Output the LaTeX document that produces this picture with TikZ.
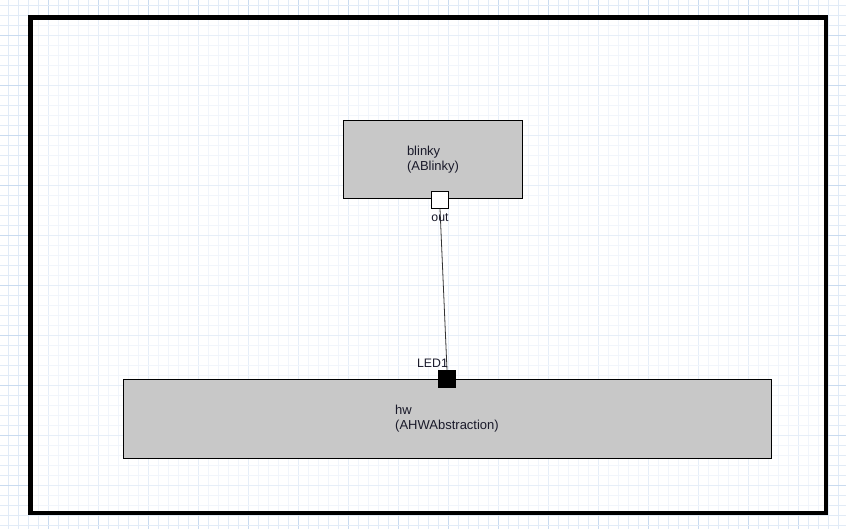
\documentclass[tikz,border=0pt]{standalone}
\usepackage{fontspec}
\setmainfont{Liberation Sans}
\begin{document}
\begin{tikzpicture}[x=1pt,y=-1pt,
  gridminor/.style={draw=gridblue!55,line width=0.8pt},
  gridmajor/.style={draw=gridblue,line width=0.8pt},
  block/.style={draw=black,fill=boxgray,line width=0.8pt,inner sep=0pt,
    align=left,font=\fontsize{13}{15}\selectfont,text=labeltext},
  portbox/.style={draw=black,line width=0.8pt,minimum size=17pt,inner sep=0pt},
  portlabel/.style={font=\fontsize{12.3}{14}\selectfont,text=labeltext,inner sep=0pt},
  wire/.style={draw=black!80,line width=0.8pt}]
\definecolor{gridblue}{HTML}{C9DBF0}
\definecolor{boxgray}{HTML}{C8C8C8}
\definecolor{labeltext}{HTML}{1A1A2A}
\useasboundingbox (0,0) rectangle (846,529);
\fill[white] (0,0) rectangle (846,529);
% background grid: minor lines every 10pt, stronger ones every 50pt
\foreach \gx in {8,18,...,838}{
  \pgfmathtruncatemacro{\gm}{mod(\gx-48+1000,50)}
  \ifnum\gm=0 \draw[gridmajor] (\gx,0) -- (\gx,529);
  \else \draw[gridminor] (\gx,0) -- (\gx,529); \fi
}
\foreach \gy in {5,15,...,525}{
  \pgfmathtruncatemacro{\gm}{mod(\gy-35+1000,50)}
  \ifnum\gm=0 \draw[gridmajor] (0,\gy) -- (846,\gy);
  \else \draw[gridminor] (0,\gy) -- (846,\gy); \fi
}
% diagram frame
\fill[white,opacity=0.55] (30.5,17.7) rectangle (825.8,513);
\draw[black,line width=4.6pt] (30.5,17.7) rectangle (825.8,513);
% blocks
\node[block,minimum width=179pt,minimum height=78pt] (blinky) at (433,159.5)
  {blinky\\(ABlinky)};
\node[block,minimum width=648pt,minimum height=79pt] (hw) at (447,418.5)
  {hw\\(AHWAbstraction)};
% ports
\node[portbox,fill=white] (out) at (440,199.7) {};
\node[portbox,fill=black] (led) at (447,379) {};
% connection
\draw[wire] (out.south) -- (led.north);
% port labels
\node[portlabel] (outlbl) at (440,218) {out};
\node[portlabel] (ledlbl) at (432.5,363) {LED1};
\end{tikzpicture}
\end{document}
